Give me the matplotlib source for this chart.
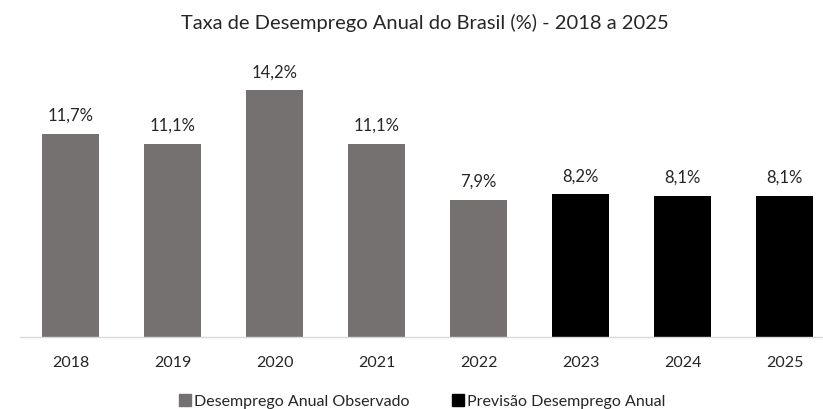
import matplotlib.pyplot as plt
from matplotlib.patches import Patch

years = ["2018", "2019", "2020", "2021", "2022", "2023", "2024", "2025"]
observed = [11.7, 11.1, 14.2, 11.1, 7.9]
forecast = [8.2, 8.1, 8.1]

title = "Taxa de Desemprego Anual do Brasil (%) - 2018 a 2025"
label_obs = "Desemprego Anual Observado"
label_fc = "Previsão Desemprego Anual"

grey = "#767171"
black = "#000000"


def main() -> None:
    plt.rcParams["font.family"] = ["Lato", "DejaVu Sans"]
    dpi = 100
    fig = plt.figure(figsize=(8.23, 4.10), dpi=dpi)
    W, H = 823, 410
    left, right, base, top = 19.7, 823, 337.7, 60
    ax = fig.add_axes([left / W, (H - base) / H, (right - left) / W, (base - top) / H])

    values = observed + forecast
    colors = [grey] * len(observed) + [black] * len(forecast)
    x = list(range(len(years)))
    bars = ax.bar(x, values, width=0.556, color=colors)
    for b, v in zip(bars, values):
        ax.annotate(f"{v:.1f}%".replace(".", ","), (b.get_x() + b.get_width() / 2, v),
                    xytext=(0, 8), textcoords="offset points", ha="center", va="bottom",
                    fontsize=12, color="#262626")

    ax.set_xlim(-0.5, -0.5 + (right - left) / 102)
    ax.set_ylim(0, (base - top) / 17.35)
    ax.set_xticks(x)
    ax.set_xticklabels(years, fontsize=11.5, color="#262626")
    ax.tick_params(axis="x", length=0, pad=13)
    ax.set_yticks([])
    for s in ["top", "right", "left"]:
        ax.spines[s].set_visible(False)
    ax.spines["bottom"].set_color("#d9d9d9")
    ax.spines["bottom"].set_linewidth(1)

    fig.text(425 / W, 1 - 23 / H, title, ha="center", va="center", fontsize=14.5, color="#262626")

    handles = [Patch(color=grey, label=label_obs), Patch(color=black, label=label_fc)]
    fig.legend(handles=handles, loc="center", bbox_to_anchor=(0.513, 8 / H), ncol=2,
               frameon=False, fontsize=11.5, handlelength=0.8, handleheight=0.8,
               handletextpad=0.2, columnspacing=2.6, labelcolor="#262626")

    fig.savefig("out.png", dpi=dpi)


if __name__ == "__main__":
    main()
